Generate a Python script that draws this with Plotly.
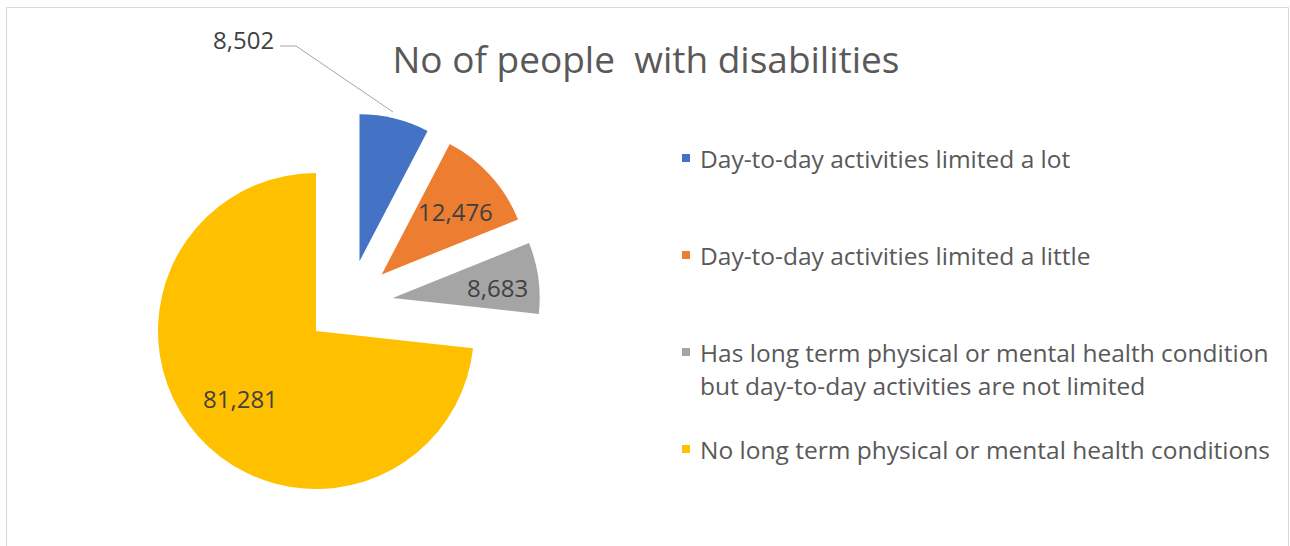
import math
import textwrap
import plotly.graph_objects as go

# Disability counts by category
categories = [
    "Day-to-day activities limited a lot",
    "Day-to-day activities limited a little",
    "Has long term physical or mental health condition but day-to-day activities are not limited",
    "No long term physical or mental health conditions",
]
counts = [8502, 12476, 8683, 81281]
colors = ["#4472C4", "#ED7D31", "#A5A5A5", "#FFC000"]
title_text = "No of people  with disabilities"

W, H = 1290, 546
FONT = "Open Sans"
TEXT_GREY = "#595959"
LABEL_GREY = "#404040"
clear = "rgba(0,0,0,0)"


def px(x):
    return x / W


def py(y):
    return 1 - y / H


def pie_domain(cx, cy, r, pull):
    half = r * (1 + pull)
    return dict(x=[px(cx - half), px(cx + half)], y=[py(cy + half), py(cy - half)])


# pie geometry (pixels)
CX, CY, R, PULL = 349, 304, 147, 0.3
BIG_CX, BIG_CY, BIG_R = 316, 331, 158

total = sum(counts)
mids = []
acc = 0
for v in counts:
    mids.append(math.radians((acc + v / 2) / total * 360))
    acc += v


def inside_point(i, frac):
    """Label anchor inside slice i, measured from the slice's own tip."""
    a = mids[i]
    ux, uy = math.sin(a), -math.cos(a)
    if i == len(counts) - 1:
        return BIG_CX + frac * BIG_R * ux, BIG_CY + frac * BIG_R * uy
    d = PULL * R + frac * R
    return CX + d * ux, CY + d * uy + 4


fig = go.Figure()

# Largest slice, drawn at full size without being pulled
fig.add_trace(go.Pie(
    labels=[f"s{i}" for i in range(len(counts))],
    values=counts,
    marker=dict(colors=[clear, clear, clear, colors[3]], line=dict(width=0)),
    sort=False, direction="clockwise", rotation=0,
    domain=pie_domain(BIG_CX, BIG_CY, BIG_R, 0),
    textinfo="none", hoverinfo="label+value", showlegend=False,
))

# Exploded smaller slices
fig.add_trace(go.Pie(
    labels=categories,
    values=counts,
    marker=dict(colors=colors[:3] + [clear], line=dict(width=0)),
    sort=False, direction="clockwise", rotation=0,
    pull=[PULL] * len(counts),
    domain=pie_domain(CX, CY, R, PULL),
    textinfo="none", hoverinfo="label+value", showlegend=False,
))

shapes = [
    # chart frame
    dict(type="rect", xref="paper", yref="paper",
         x0=px(6.5), x1=px(1288.5), y0=py(560), y1=py(7.5),
         line=dict(color="#D9D9D9", width=1), fillcolor=clear),
    # leader line for the smallest slice label
    dict(type="path", xref="paper", yref="paper",
         path=f"M {px(280)},{py(46)} L {px(296)},{py(46)} L {px(393)},{py(112)}",
         line=dict(color="#A6A6A6", width=1)),
]

label_font = dict(family=FONT, size=24, color=LABEL_GREY)
annotations = [
    dict(text=f"{counts[0]:,}", x=px(243), y=py(40), xref="paper", yref="paper",
         showarrow=False, xanchor="center", yanchor="middle", font=label_font),
]
label_frac = [None, 0.68, 0.72, 0.64]
for i in range(1, len(counts)):
    lx, ly = inside_point(i, label_frac[i])
    annotations.append(dict(text=f"{counts[i]:,}", x=px(lx), y=py(ly),
                            xref="paper", yref="paper", showarrow=False,
                            xanchor="center", yanchor="middle", font=label_font))

# Legend drawn as coloured squares with wrapped labels
item_y0, item_step, line_step = 158, 97, 33
for i, (name, col) in enumerate(zip(categories, colors)):
    yc = item_y0 + i * item_step
    shapes.append(dict(type="rect", xref="paper", yref="paper",
                       x0=px(682), x1=px(690), y0=py(yc + 4), y1=py(yc - 4),
                       fillcolor=col, line=dict(width=0)))
    for j, line in enumerate(textwrap.wrap(name, 50)):
        annotations.append(dict(text=line, x=px(698), y=py(yc + j * line_step),
                                xref="paper", yref="paper", showarrow=False,
                                xanchor="left", yanchor="middle",
                                font=dict(family=FONT, size=24.5, color=TEXT_GREY)))

fig.update_layout(
    width=W, height=H,
    margin=dict(l=0, r=0, t=0, b=0),
    paper_bgcolor="white", plot_bgcolor="white",
    title=dict(text=title_text, x=px(646), y=py(60), xanchor="center", yanchor="middle",
               font=dict(family=FONT, size=37, color=TEXT_GREY)),
    shapes=shapes, annotations=annotations,
)

fig.write_html("out.html")
